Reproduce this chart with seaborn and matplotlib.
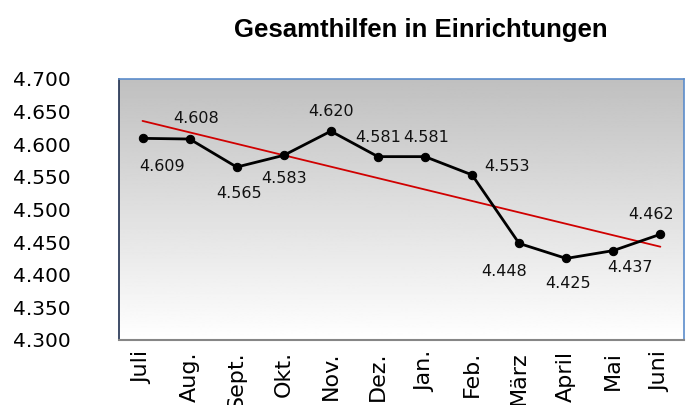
import numpy as np
import pandas as pd
import seaborn as sns
import matplotlib.pyplot as plt

# data
months = ["Juli", "Aug.", "Sept.", "Okt.", "Nov.", "Dez.",
          "Jan.", "Feb.", "März", "April", "Mai", "Juni"]
hilfen = [4609, 4608, 4565, 4583, 4620, 4581,
          4581, 4553, 4448, 4425, 4437, 4462]
y_ticks = [4300, 4350, 4400, 4450, 4500, 4550, 4600, 4650, 4700]

df = pd.DataFrame({"pos": np.arange(len(months)), "wert": hilfen})

def de(v):
    return f"{v:,}".replace(",", ".")

sns.set_style("white")
plt.rcParams["font.family"] = ["DejaVu Sans"]

fig = plt.figure(figsize=(7, 4.05), dpi=100)
ax = fig.add_axes([0.170, 0.1605, 0.807, 0.6445])

# grey-to-white background gradient in the plot area (top grey, bottom white)
grad = np.linspace(0.75, 1.0, 256).reshape(-1, 1)
ax.imshow(grad, cmap="gray", vmin=0, vmax=1, aspect="auto",
          extent=[-0.5, 11.5, 4300, 4700], origin="upper", zorder=0)

sns.regplot(data=df, x="pos", y="wert", scatter=False, ci=None, ax=ax,
            line_kws={"color": "#d00000", "lw": 1.3, "zorder": 2})
sns.lineplot(data=df, x="pos", y="wert", ax=ax, color="black", lw=2,
             marker="o", markersize=6, markeredgecolor="black", zorder=3)

# label offsets in points (style only)
offs = [(14, -20), (5, 15), (2, -19), (0, -17), (0, 14), (0, 14),
        (1, 14), (25, 6), (-11, -20), (1, -18), (12, -12), (-7, 14)]
for i, v in enumerate(hilfen):
    ax.annotate(de(v), (i, v), xytext=offs[i], textcoords="offset points",
                ha="center", va="center", fontsize=11.5, color="#111111")

ax.set_xlim(-0.5, 11.5)
ax.set_ylim(4300, 4700)
ax.set_yticks(y_ticks)
ax.set_yticklabels([de(t) for t in y_ticks], fontsize=14.5, color="black")
ax.set_xticks(np.arange(len(months)))
ax.set_xticklabels(months, rotation=90, fontsize=16, va="top", color="black")
ax.set_xticks(np.arange(-0.5, 12, 1), minor=True)
ax.tick_params(axis="x", which="major", length=0, pad=8)
ax.tick_params(axis="x", which="minor", length=5, color="#868686", width=1.5)
ax.tick_params(axis="y", length=7, color="#555555", pad=28, width=1.2)
for t in ax.get_yticklabels():
    t.set_horizontalalignment("right")
ax.set_xlabel("")
ax.set_ylabel("")

for s in ["top", "right"]:
    ax.spines[s].set_color("#5b8ccb")
    ax.spines[s].set_linewidth(1.2)
ax.spines["left"].set_color("#1f2f4f")
ax.spines["left"].set_linewidth(1.2)
ax.spines["bottom"].set_color("#868686")
ax.spines["bottom"].set_linewidth(1.5)
for s in ax.spines.values():
    s.set_visible(True)

fig.text(0.601, 0.925, "Gesamthilfen in Einrichtungen", ha="center", va="center",
         fontsize=18.5, fontweight="bold", color="black", family=["Liberation Sans"])

fig.savefig("out.png", dpi=100)
